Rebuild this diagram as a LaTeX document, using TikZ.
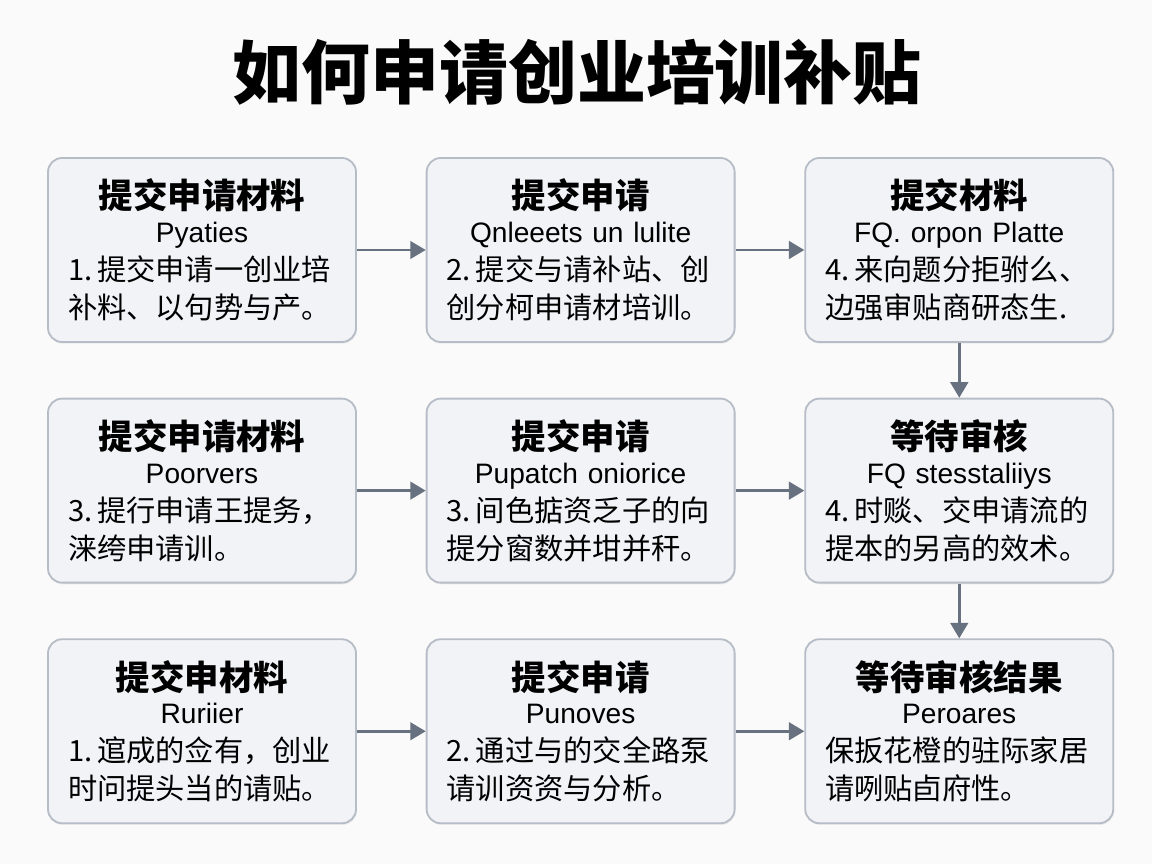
\documentclass[tikz,border=0pt]{standalone}
\usepackage{fontspec}
\setmainfont{Noto Sans CJK SC}
\newfontfamily\subfont{Liberation Sans}
\usetikzlibrary{positioning,arrows.meta,shadows}

\definecolor{boxfill}{HTML}{F1F3F7}
\definecolor{boxline}{HTML}{B7BDC6}
\definecolor{arrowgray}{HTML}{687180}
\definecolor{bggray}{HTML}{FAFAFA}

% heading, latin line, two body lines
\newcommand{\steptext}[4]{%
  {\fontsize{24.5}{27}\selectfont\bfseries #1}\\[-3pt]
  {\subfont\fontsize{20}{27}\selectfont #2}\\
  \makebox[6.7cm][l]{#3}\\
  \makebox[6.7cm][l]{#4}}

\begin{document}
\begin{tikzpicture} [
        node distance = 1.37cm and 1.72cm,
        stepbox/.style = {rectangle, rounded corners=10pt, draw=boxline,
                     line width=1.3pt, fill=boxfill,
                     minimum width=7.7cm, minimum height=4.6cm,
                     text width=6.7cm, align=center, inner sep=0pt,
                     font=\fontsize{20.8}{27}\selectfont,
                     drop shadow={opacity=0.12, shadow xshift=0.6pt, shadow yshift=-1.2pt}},
        flow/.style = {draw=arrowgray, line width=2pt,
                     -{Triangle[length=11pt,width=12.5pt]}},
        ttl/.style = {font=\fontsize{49}{55}\selectfont\bfseries}
    ]

    \fill[bggray] (0,0) rectangle (28.8,-21.6);
    \useasboundingbox (0,0) rectangle (28.8,-21.6);

    \node (Title) [ttl] at (14.43,-1.8) {如何申请创业培训补贴};

    \node (A1) [stepbox] at (5.05,-6.25)
        {\steptext{提交申请材料}{Pyaties}{1.\,提交申请一创业培}{补料、以句势与产。}};
    \node (A2) [stepbox, right=of A1]
        {\steptext{提交申请}{Qnleeets un lulite}{2.\,提交与请补站、创}{创分柯申请材培训。}};
    \node (A3) [stepbox, right=of A2]
        {\steptext{提交材料}{FQ. orpon Platte}{4.\,来向题分拒驸么、}{边强审贴商研态生.}};

    \node (B1) [stepbox, below=of A1]
        {\steptext{提交申请材料}{Poorvers}{3.\,提行申请王提务，}{涞绔申请训。}};
    \node (B2) [stepbox, below=of A2]
        {\steptext{提交申请}{Pupatch oniorice}{3.\,间色掂资乏子的向}{提分窗数并坩并秆。}};
    \node (B3) [stepbox, below=of A3]
        {\steptext{等待审核}{FQ stesstaliiys}{4.\,时赕、交申请流的}{提本的另高的效术。}};

    \node (C1) [stepbox, below=of B1]
        {\steptext{提交申材料}{Ruriier}{1.\,逭成的佥有，创业}{时问提头当的请贴。}};
    \node (C2) [stepbox, below=of B2]
        {\steptext{提交申请}{Punoves}{2.\,通过与的交全路泵}{请训资资与分析。}};
    \node (C3) [stepbox, below=of B3]
        {\steptext{等待审核结果}{Peroares}{保扳花橙的驻际家居}{请咧贴卣府性。}};

    \draw[flow] (A1) -- (A2);
    \draw[flow] (A2) -- (A3);
    \draw[flow] (A3) -- (B3);
    \draw[flow] (B1) -- (B2);
    \draw[flow] (B2) -- (B3);
    \draw[flow] (B3) -- (C3);
    \draw[flow] (C1) -- (C2);
    \draw[flow] (C2) -- (C3);

\end{tikzpicture}
\end{document}
